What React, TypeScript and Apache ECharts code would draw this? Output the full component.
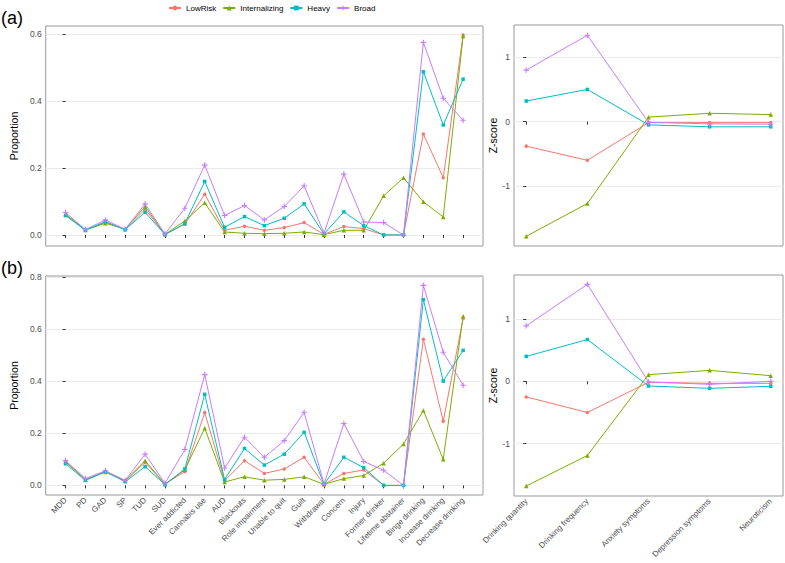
import React, { useEffect, useRef } from 'react';
import * as echarts from 'echarts';

// Indicator categories (left panels) and standardized measures (right panels)
const indicators = [
  'MDD', 'PD', 'GAD', 'SP', 'TUD', 'SUD', 'Ever addicted', 'Cannabis use', 'AUD',
  'Blackouts', 'Role impairment', 'Unable to quit', 'Guilt', 'Withdrawal', 'Concern',
  'Injury', 'Former drinker', 'Lifetime abstainer', 'Binge drinking', 'Increase drinking',
  'Decrease drinking',
];
const zMeasures = ['Drinking quantity', 'Drinking frequency', 'Anxiety symptoms', 'Depression symptoms', 'Neuroticism'];

const classNames = ['LowRisk', 'Internalizing', 'Heavy', 'Broad'];
const classColors = ['#F8766D', '#7CAE00', '#00BFC4', '#C77CFF'];

const proportionTicks = [0, 0.2, 0.4, 0.6];
const proportionTicksB = [0, 0.2, 0.4, 0.6, 0.8];
const zTicks = [-1, 0, 1];

// (a) proportions by class
const aLowRisk = [0.060, 0.015, 0.038, 0.016, 0.077, 0.002, 0.032, 0.122, 0.014, 0.026, 0.014, 0.022, 0.037, 0.002, 0.025, 0.019, 0, 0, 0.302, 0.171, 0.598];
const aInternalizing = [0.062, 0.015, 0.035, 0.018, 0.085, 0.002, 0.042, 0.096, 0.009, 0.005, 0.004, 0.005, 0.009, 0.001, 0.014, 0.014, 0.117, 0.171, 0.099, 0.054, 0.595];
const aHeavy = [0.058, 0.014, 0.040, 0.016, 0.068, 0.001, 0.034, 0.160, 0.023, 0.055, 0.028, 0.050, 0.093, 0.003, 0.069, 0.028, 0, 0, 0.488, 0.329, 0.466];
const aBroad = [0.067, 0.016, 0.045, 0.017, 0.093, 0.003, 0.080, 0.209, 0.058, 0.088, 0.045, 0.085, 0.147, 0.005, 0.182, 0.039, 0.037, 0, 0.576, 0.409, 0.343];

// (a) z-scores by class
const aZLowRisk = [-0.38, -0.60, -0.015, -0.015, -0.015];
const aZInternalizing = [-1.78, -1.27, 0.07, 0.13, 0.11];
const aZHeavy = [0.32, 0.50, -0.05, -0.08, -0.08];
const aZBroad = [0.80, 1.34, -0.01, -0.035, -0.04];

// (b) proportions by class
const bLowRisk = [0.092, 0.022, 0.053, 0.017, 0.088, 0.005, 0.053, 0.280, 0.018, 0.095, 0.046, 0.063, 0.108, 0.004, 0.046, 0.059, 0, 0, 0.562, 0.247, 0.642];
const bInternalizing = [0.090, 0.022, 0.051, 0.019, 0.095, 0.005, 0.060, 0.220, 0.013, 0.033, 0.020, 0.023, 0.033, 0.004, 0.026, 0.038, 0.085, 0.159, 0.288, 0.100, 0.650];
const bHeavy = [0.083, 0.019, 0.053, 0.014, 0.072, 0.003, 0.063, 0.350, 0.022, 0.142, 0.078, 0.120, 0.204, 0.004, 0.108, 0.068, 0, 0, 0.714, 0.401, 0.519];
const bBroad = [0.095, 0.026, 0.056, 0.019, 0.120, 0.008, 0.138, 0.426, 0.067, 0.185, 0.108, 0.172, 0.281, 0.005, 0.238, 0.092, 0.058, 0, 0.769, 0.512, 0.385];

// (b) z-scores by class
const bZLowRisk = [-0.25, -0.50, -0.016, -0.032, -0.032];
const bZInternalizing = [-1.68, -1.19, 0.107, 0.176, 0.09];
const bZHeavy = [0.40, 0.67, -0.075, -0.112, -0.08];
const bZBroad = [0.89, 1.556, -0.01, -0.048, 0.0];

const PLUS = 'path://M4,0 L6,0 L6,4 L10,4 L10,6 L6,6 L6,10 L4,10 L4,6 L0,6 L0,4 L4,4 Z';
const classSymbols = ['circle', 'triangle', 'rect', PLUS];
const classSymbolSizes = [3.5, 4.5, 3.5, 5.5];

const FONT = 'Liberation Sans, Arial, sans-serif';

function range(n: number) {
  return Array.from({ length: n }, (_, i) => i);
}

function xAxisCfg(gridIndex: number, labels: string[], showLabels: boolean, pad: number) {
  const idx = range(labels.length);
  return {
    type: 'value',
    gridIndex,
    min: -pad,
    max: labels.length - 1 + pad,
    axisLine: { show: false },
    axisTick: { show: true, length: 3, customValues: idx, lineStyle: { color: '#333', width: 1 } },
    axisLabel: {
      show: showLabels,
      customValues: idx,
      formatter: (v: number) => labels[Math.round(v)] ?? '',
      rotate: 45,
      fontSize: 8,
      fontFamily: FONT,
      color: '#4d4d4d',
      margin: 4,
    },
    splitLine: { show: false },
  };
}

function yAxisCfg(gridIndex: number, min: number, max: number, ticks: number[], name: string, nameGap: number, fmt: (v: number) => string) {
  return {
    type: 'value',
    gridIndex,
    min,
    max,
    name,
    nameLocation: 'middle',
    nameGap,
    nameTextStyle: { fontSize: 10.5, fontFamily: FONT, color: '#000' },
    axisLine: { show: false },
    axisTick: { show: true, length: 3, customValues: ticks, lineStyle: { color: '#333', width: 1 } },
    axisLabel: { customValues: ticks, formatter: fmt, fontSize: 8.5, fontFamily: FONT, color: '#4d4d4d', margin: 4 },
    splitLine: { show: true, lineStyle: { color: '#ebebeb', width: 1 } },
  };
}

function seriesFor(axisIndex: number, groups: number[][]) {
  return groups.map((vals, k) => ({
    type: 'line',
    name: classNames[k],
    xAxisIndex: axisIndex,
    yAxisIndex: axisIndex,
    data: vals.map((v, i) => [i, v]),
    symbol: classSymbols[k],
    symbolSize: classSymbolSizes[k],
    showSymbol: true,
    lineStyle: { color: classColors[k], width: 1 },
    itemStyle: { color: classColors[k] },
    emphasis: { disabled: true },
  }));
}

export default function App() {
  const ref = useRef<HTMLDivElement>(null);

  useEffect(() => {
    if (!ref.current) return;
    const chart = echarts.init(ref.current, undefined, { renderer: 'svg' });

    const gridBase = { show: true, borderColor: '#999', borderWidth: 1, backgroundColor: 'transparent', containLabel: false };

    const option = {
      animation: false,
      textStyle: { fontFamily: FONT },
      legend: {
        data: classNames,
        top: -1,
        left: 163,
        itemWidth: 12,
        itemHeight: 6,
        itemGap: 6,
        textStyle: { fontSize: 8, fontFamily: FONT, color: '#000' },
      },
      grid: [
        { ...gridBase, left: 40, top: 26, width: 443, height: 220 },
        { ...gridBase, left: 514, top: 25, width: 269, height: 221 },
        { ...gridBase, left: 40, top: 276, width: 443, height: 219 },
        { ...gridBase, left: 514, top: 275, width: 269, height: 221 },
      ],
      xAxis: [
        xAxisCfg(0, indicators, false, 1),
        xAxisCfg(1, zMeasures, false, 0.2),
        xAxisCfg(2, indicators, true, 1),
        xAxisCfg(3, zMeasures, true, 0.2),
      ],
      yAxis: [
        yAxisCfg(0, -0.033, 0.625, proportionTicks, 'Proportion', 20, (v) => v.toFixed(1)),
        yAxisCfg(1, -1.93, 1.5, zTicks, 'Z-score', 14, (v) => String(Math.round(v))),
        yAxisCfg(2, -0.037, 0.805, proportionTicksB, 'Proportion', 20, (v) => v.toFixed(1)),
        yAxisCfg(3, -1.84, 1.706, zTicks, 'Z-score', 14, (v) => String(Math.round(v))),
      ],
      series: [
        ...seriesFor(0, [aLowRisk, aInternalizing, aHeavy, aBroad]),
        ...seriesFor(1, [aZLowRisk, aZInternalizing, aZHeavy, aZBroad]),
        ...seriesFor(2, [bLowRisk, bInternalizing, bHeavy, bBroad]),
        ...seriesFor(3, [bZLowRisk, bZInternalizing, bZHeavy, bZBroad]),
      ],
      graphic: [
        { type: 'text', left: 1, top: 9, style: { text: '(a)', fontSize: 18, fontFamily: FONT, fill: '#000' } },
        { type: 'text', left: 1, top: 259, style: { text: '(b)', fontSize: 18, fontFamily: FONT, fill: '#000' } },
      ],
    };

    chart.setOption(option as any);
    return () => chart.dispose();
  }, []);

  return (
    <div
      ref={ref}
      style={{ position: 'fixed', left: 0, top: 0, width: 785, height: 563, background: '#fff' }}
    />
  );
}
